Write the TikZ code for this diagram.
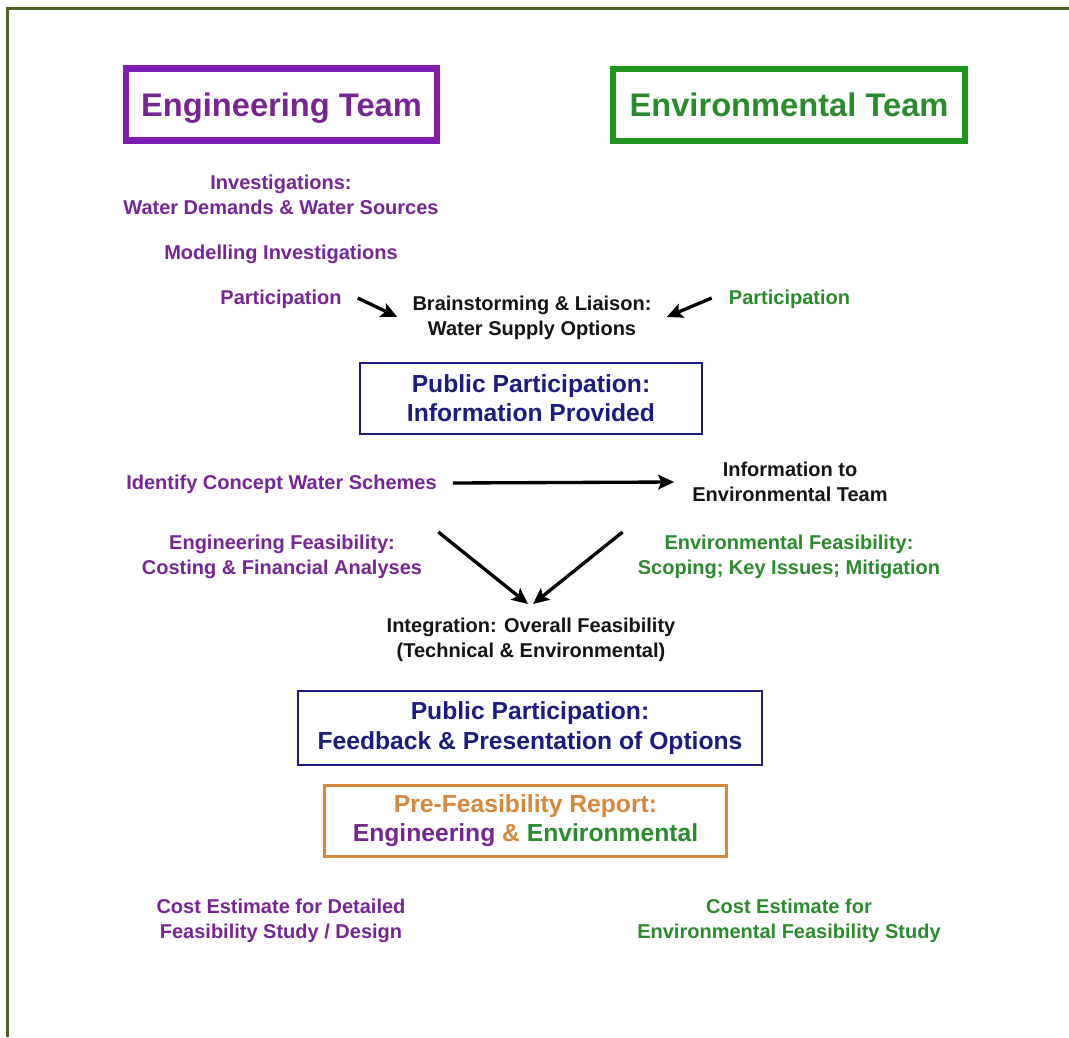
\documentclass[tikz,border=0pt]{standalone}
\usepackage{fontspec}
\setmainfont{Liberation Sans}
\usetikzlibrary{arrows.meta,calc}

\definecolor{engpurple}{RGB}{118,38,148}
\definecolor{engline}{RGB}{128,30,176}
\definecolor{envgreen}{RGB}{44,138,46}
\definecolor{envline}{RGB}{30,150,30}
\definecolor{ppnavy}{RGB}{28,28,128}
\definecolor{repbrown}{RGB}{214,135,62}
\definecolor{frameolive}{RGB}{79,98,40}

\tikzset{
	small/.style = {font=\fontsize{15}{18.5}\selectfont\bfseries, align=center, inner sep=0},
	eng/.style = {small, text=engpurple},
	env/.style = {small, text=envgreen},
	note/.style = {small, text=black!92},
	teambox/.style = {draw, line width=4.8pt, inner sep=0, minimum height=54pt, text depth=0pt,
		font=\fontsize{24.5}{28}\selectfont\bfseries},
	ppbox/.style = {draw=ppnavy, line width=1.5pt, text=ppnavy, inner sep=0, align=center,
		font=\fontsize{18.5}{22}\selectfont\bfseries},
	flow/.style = {-{Stealth[length=12pt,width=11pt,inset=2.5pt]}, line width=2.5pt}
}

\begin{document}
\begin{tikzpicture}[x=0.75pt, y=-0.75pt]
	\useasboundingbox (0,0) rectangle (1069,1037);
	\draw [frameolive, line width=2.6pt] (7.5,1037) -- (7.5,8.5) -- (1069,8.5);

	% the two teams
	\node [teambox, draw=engline, text=engpurple, minimum width=233.25pt] (engteam) at (281.5,104.5) {Engineering Team};
	\node [teambox, draw=envline, text=envgreen, minimum width=264pt] (envteam) at (789,105) {Environmental Team};

	\node [eng] (invest) at (281,195) {Investigations:\\Water Demands \& Water Sources};
	\node [eng] (model) at (281,254) {Modelling Investigations};
	\node [eng] (engpart) at (281,299) {Participation};
	\node [env] (envpart) at (789.5,299) {Participation};
	\node [note] (brain) at (532,318) {Brainstorming \& Liaison:\\Water Supply Options};
	\draw [flow] ($(engpart.east)+(16,-1)$) -- ($(brain.west)+(-15,-1)$);
	\draw [flow] ($(envpart.west)+(-17,-1)$) -- ($(brain.east)+(15,-1)$);

	\node [ppbox, minimum width=256.5pt, minimum height=53.25pt] (ppinfo) at (531,398.5) {Public Participation:\\Information Provided};

	\node [eng] (concept) at (281.5,484) {Identify Concept Water Schemes};
	\node [note] (toenv) at (790,482) {Information to\\Environmental Team};
	\draw [flow] ($(concept.east)+(16,-1)$) -- ($(toenv.west)+(-18,0)$);

	% feasibility, both sides
	\node [eng] (engfeas) at (282,557) {Engineering Feasibility:\\Costing \& Financial Analyses};
	\node [env] (envfeas) at (789,557) {Environmental Feasibility:\\Scoping; Key Issues; Mitigation};
	\node [note] (integ) at (531,640) {Integration: Overall Feasibility\\(Technical \& Environmental)};
	\draw [flow] ($(engfeas.east)+(16,-25)$) -- ($(integ.center)+(-3,-36)$);
	\draw [flow] ($(envfeas.west)+(-15,-25)$) -- ($(integ.center)+(2,-36)$);

	\node [ppbox, minimum width=348pt, minimum height=55.5pt] (ppfeed) at (530,728) {Public Participation:\\Feedback \& Presentation of Options};
	\node [ppbox, draw=repbrown, line width=2.25pt, text=repbrown, minimum width=301.5pt, minimum height=53.25pt] (report) at (525.5,821)
		{Pre-Feasibility Report:\\\textcolor{engpurple}{Engineering} \& \textcolor{envgreen}{Environmental}};

	\node [eng] (engcost) at (281,921) {Cost Estimate for Detailed\\Feasibility Study / Design};
	\node [env] (envcost) at (789,921) {Cost Estimate for\\Environmental Feasibility Study};
\end{tikzpicture}
\end{document}
